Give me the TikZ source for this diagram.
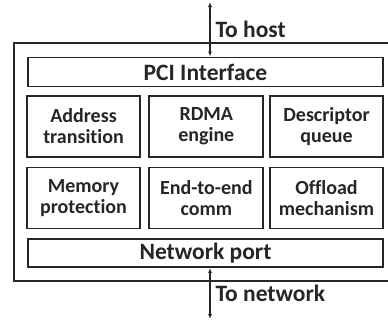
\documentclass[tikz,border=0pt]{standalone}
\usepackage{fontspec}
\setmainfont{Carlito}[Ligatures=NoCommon]
\usetikzlibrary{positioning,arrows.meta}

\begin{document}
\begin{tikzpicture}[
  x=1pt, y=-1pt,
  bx/.style={draw=black!85, line width=1.8pt, minimum width=#1, inner sep=0pt,
             font=\bfseries\fontsize{20}{21}\selectfont, text=black!85, align=center},
  wd/.style={bx=355pt, font=\bfseries\fontsize{23.5}{26}\selectfont},
  ar/.style={{Latex[length=5pt,width=4pt]}-{Latex[length=5pt,width=4pt]}, line width=1.2pt, black!85},
  lb/.style={font=\bfseries\fontsize{23.5}{26}\selectfont, text=black!85, inner sep=5pt}
]
\useasboundingbox (0,0) rectangle (388,322);

% NIC outline (right edge runs off the page)
\node[draw=black!85, line width=1.9pt, minimum width=378pt, minimum height=238pt] (nic) at (203,162) {};

\node[wd, minimum height=29pt] (pci) at (205.5,72)  {PCI Interface};
\node[wd, minimum height=28pt] (net) at (205.5,253) {Network port};

% function blocks
\node[bx=113pt, minimum height=61pt] (addr) at (83.5,126.5)  {Address\\transition};
\node[bx=114pt, minimum height=61pt] (rdma) at (206.3,126.5) {RDMA\\engine};
\node[bx=113pt, minimum height=61pt] (desc) at (326.5,126.5) {Descriptor\\queue};
\node[bx=113pt, minimum height=61pt] (mem)  at (83.5,198)    {Memory\\protection};
\node[bx=114pt, minimum height=61pt] (e2e)  at (206.3,198)   {End-to-end\\comm};
\node[bx=113pt, minimum height=61pt] (off)  at (326.5,198)   {Offload\\mechanism};

\coordinate (host) at (210,2);
\coordinate (wire) at (210,319);

\draw[ar] (host) -- node[lb, right] (hostlb) {To host} (pci.north -| host);
\draw[ar] (net.south -| wire) -- node[lb, right] (netlb) {To network} (wire);
\end{tikzpicture}
\end{document}
